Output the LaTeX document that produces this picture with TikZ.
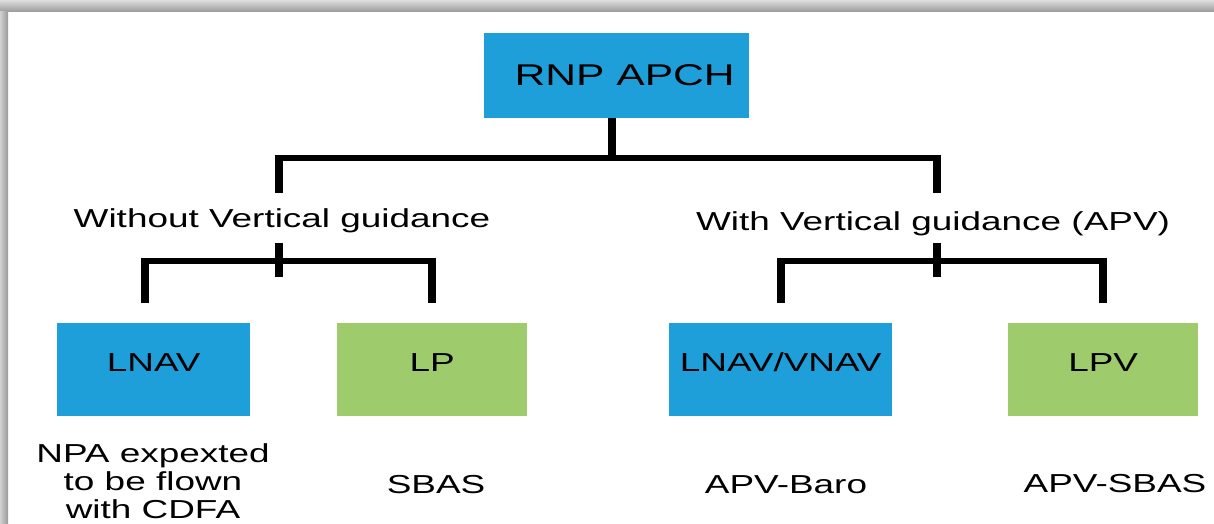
\documentclass[tikz,border=0pt]{standalone}
\usepackage{fontspec}
\setmainfont{Liberation Sans}
\newcommand{\wide}[1]{\scalebox{1.42}[1]{#1}}
\definecolor{boxblue}{RGB}{31,159,218}
\definecolor{boxgreen}{RGB}{158,204,108}
\begin{document}
\begin{tikzpicture}[x=1pt,y=-1pt,
  box/.style={inner sep=0pt, anchor=north west, font=\fontsize{26}{30}\selectfont, text height=48pt, text depth=45pt},
  bluebox/.style={box, fill=boxblue},
  greenbox/.style={box, fill=boxgreen},
  vline/.style={line width=8pt, black},
  hline/.style={line width=6pt, black},
  lbl/.style={font=\fontsize{26}{28}\selectfont, anchor=base, inner sep=0pt},
]
\useasboundingbox (0,0) rectangle (1214,524);
\fill[white] (0,0) rectangle (1214,524);
\shade[top color=black!13, bottom color=black!40] (0,0) rectangle (1214,12);
\shade[left color=black!18, right color=black!40] (0,12) rectangle (8,524);

% boxes
\node[bluebox, minimum width=265pt, font=\fontsize{30}{34}\selectfont, text height=52pt, text depth=33pt] (rnp) at (484,33) {\hspace{16pt}\wide{RNP APCH}};
\node[bluebox, minimum width=193pt] (lnav) at (57,323) {\wide{LNAV}\hspace{18pt}};
\node[greenbox, minimum width=190pt] (lp) at (337,323) {\wide{LP}\hspace{18pt}};
\node[bluebox, minimum width=223pt] (lv) at (669,323) {\wide{LNAV/VNAV}};
\node[greenbox, minimum width=190pt] (lpv) at (1008,323) {\wide{LPV}};

% labels
\node[lbl] (wo) at (282,227) {\wide{Without Vertical guidance}};
\node[lbl] (wv) at (933,230) {\wide{With Vertical guidance (APV)}};
\node[lbl, anchor=north, align=center] (npa) at (153,443) {\wide{NPA expexted}\\\wide{to be flown}\\\wide{with CDFA}};
\node[lbl] (sbas) at (436,493) {\wide{SBAS}};
\node[lbl] (baro) at (786,493) {\wide{APV-Baro}};
\node[lbl] (asbas) at (1115,492) {\wide{APV-SBAS}};

% connector coordinates
\coordinate (tj) at (612,158);
\coordinate (tl) at (279,158);
\coordinate (tr) at (937,158);
\coordinate (tld) at (279,193);
\coordinate (trd) at (937,193);
\coordinate (ls) at (279,243);
\coordinate (lj) at (279,277);
\coordinate (la) at (145,261);
\coordinate (lb) at (432,261);
\coordinate (lad) at (145,303);
\coordinate (lbd) at (432,303);
\coordinate (rs) at (937,243);
\coordinate (rj) at (937,277);
\coordinate (ra) at (781,261);
\coordinate (rb) at (1103,261);
\coordinate (rad) at (781,303);
\coordinate (rbd) at (1103,303);

% top level
\draw[vline] (rnp.south -| tj) -- (tj);
\draw[hline] ([xshift=-4pt]tl) -- ([xshift=4pt]tr);
\draw[vline] ([yshift=3pt]tl) -- (tld);
\draw[vline] ([yshift=3pt]tr) -- (trd);

% left level
\draw[vline] (ls) -- (lj);
\draw[hline] ([xshift=-4pt]la) -- ([xshift=4pt]lb);
\draw[vline] ([yshift=3pt]la) -- (lad);
\draw[vline] ([yshift=3pt]lb) -- (lbd);

% right level
\draw[vline] (rs) -- (rj);
\draw[hline] ([xshift=-4pt]ra) -- ([xshift=4pt]rb);
\draw[vline] ([yshift=3pt]ra) -- (rad);
\draw[vline] ([yshift=3pt]rb) -- (rbd);
\end{tikzpicture}
\end{document}
